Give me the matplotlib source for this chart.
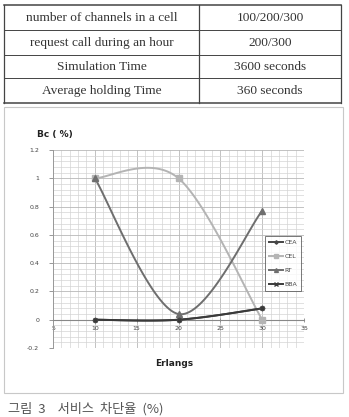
import numpy as np
import matplotlib
matplotlib.use("Agg")
import matplotlib.pyplot as plt
from matplotlib.patches import Rectangle
from matplotlib.lines import Line2D

# ---- data ----
table_params = ["number of channels in a cell", "request call during an hour",
                "Simulation Time", "Average holding Time"]
table_values = ["100/200/300", "200/300", "3600 seconds", "360 seconds"]

erlangs = [10, 20, 30]
series_names = ["CEA", "CEL", "RT", "BBA"]
cea = [0.0, 0.0, 0.08]
cel = [1.0, 1.0, 0.0]
rt = [1.0, 0.04, 0.77]
bba = [0.0, 0.0, 0.08]

x_ticks = [5, 10, 15, 20, 25, 30, 35]
y_ticks = [-0.2, 0, 0.2, 0.4, 0.6, 0.8, 1, 1.2]
y_tick_labels = ["-0.2", "0", "0.2", "0.4", "0.6", "0.8", "1", "1.2"]

W, H = 349, 417
fig = plt.figure(figsize=(W / 100, H / 100), dpi=100)
fig.patch.set_facecolor("white")

def fx(px):
    return px / W

def fy(py):
    return 1 - py / H

# ---- table ----
serif = ["Liberation Serif", "DejaVu Serif"]
row_y = [5, 30, 55, 78, 103]
xl, xm, xr = 4, 199, 341
for i, y in enumerate(row_y):
    lw = 1.1 if i in (0, len(row_y) - 1) else 0.7
    fig.add_artist(Line2D([fx(xl), fx(xr)], [fy(y), fy(y)], color="#444444", lw=lw))
for x in (xl, xm, xr):
    fig.add_artist(Line2D([fx(x), fx(x)], [fy(row_y[0]), fy(row_y[-1])], color="#444444", lw=0.9))
for i in range(4):
    yc = (row_y[i] + row_y[i + 1]) / 2 + 0.5
    fig.text(fx((xl + xm) / 2), fy(yc), table_params[i], ha="center", va="center",
             fontsize=9.6, family=serif, color="#333333")
    fig.text(fx((xm + xr) / 2), fy(yc), table_values[i], ha="center", va="center",
             fontsize=9.6, family=serif, color="#333333")

# ---- chart outer border ----
fig.add_artist(Rectangle((fx(4), fy(393)), fx(343) - fx(4), fy(107) - fy(393),
                         transform=fig.transFigure, fill=False, ec="#c8c8c8", lw=0.8))

# ---- axes ----
left, right, top, bottom = 53, 304, 150, 348
ax = fig.add_axes([fx(left), fy(bottom), fx(right) - fx(left), fy(top) - fy(bottom)])
ax.set_xlim(5, 35)
ax.set_ylim(-0.2, 1.2)
ax.set_xticks(x_ticks)
ax.set_xticks(np.arange(5, 35.01, 1), minor=True)
ax.set_yticks(y_ticks)
ax.set_yticklabels(y_tick_labels)
ax.set_yticks(np.arange(-0.2, 1.2001, 0.04), minor=True)
ax.grid(which="major", color="#b8b8b8", lw=0.6)
ax.grid(which="minor", color="#d4d4d4", lw=0.5)
ax.set_axisbelow(True)
for s in ("top", "right"):
    ax.spines[s].set_visible(False)
ax.spines["left"].set_color("#999999")
ax.spines["left"].set_linewidth(0.7)
ax.spines["bottom"].set_position(("data", 0))
ax.spines["bottom"].set_color("#888888")
ax.spines["bottom"].set_linewidth(0.8)
ax.tick_params(axis="both", which="major", labelsize=4.5, colors="#888888",
               labelcolor="#444444", length=3, width=0.6)
ax.tick_params(axis="y", which="major", pad=7)
ax.tick_params(axis="x", which="major", direction="inout", pad=3)
ax.tick_params(which="minor", length=0)


def excel_smooth(xs, ys, n=40):
    p = np.column_stack([xs, ys]).astype(float)
    out = []
    m = len(p)
    for i in range(m - 1):
        p0 = p[i - 1] if i > 0 else p[i]
        p1, p2 = p[i], p[i + 1]
        p3 = p[i + 2] if i + 2 < m else p[i + 1]
        c1 = p1 + (p2 - p0) / 6
        c2 = p2 - (p3 - p1) / 6
        t = np.linspace(0, 1, n)[:, None]
        seg = ((1 - t) ** 3) * p1 + 3 * ((1 - t) ** 2) * t * c1 + 3 * (1 - t) * t ** 2 * c2 + t ** 3 * p2
        out.append(seg if i == 0 else seg[1:])
    a = np.vstack(out)
    return a[:, 0], a[:, 1]


styles = {
    "CEA": dict(color="#444444", marker="D", ms=2.5),
    "CEL": dict(color="#b4b4b4", marker="s", ms=4.5),
    "RT": dict(color="#6e6e6e", marker="^", ms=4),
    "BBA": dict(color="#3a3a3a", marker="x", ms=3.5),
}
data = {"CEA": cea, "CEL": cel, "RT": rt, "BBA": bba}
handles = []
for name in ["CEL", "RT", "CEA", "BBA"]:
    st = styles[name]
    sx, sy = excel_smooth(erlangs, data[name])
    ax.plot(sx, sy, color=st["color"], lw=1.4, zorder=3, clip_on=False)
    ax.plot(erlangs, data[name], ls="none", marker=st["marker"], ms=st["ms"],
            color=st["color"], mec=st["color"], zorder=4, clip_on=False)
for name in series_names:
    st = styles[name]
    handles.append(Line2D([], [], color=st["color"], lw=1.4, marker=st["marker"],
                          ms=st["ms"] * 0.7, label=name))

leg = ax.legend(handles=handles, loc="upper left", bbox_to_anchor=((265 - left) / (right - left), (bottom - 236) / (bottom - top)),
                fontsize=4.5, frameon=True, fancybox=False, edgecolor="#555555",
                handlelength=2.2, handletextpad=0.3, borderpad=0.6, labelspacing=1.4,
                borderaxespad=0)
leg.get_frame().set_linewidth(0.7)
for t in leg.get_texts():
    t.set_color("#444444")

# ---- labels ----
fig.text(fx(37), fy(135), "Bc ( %)", fontsize=6.5, fontweight="bold", ha="left", va="center",
         color="#222222")
fig.text(fx(174), fy(363), "Erlangs", fontsize=6.5, fontweight="bold", ha="center", va="center",
         color="#222222")

# ---- caption ----
fig.text(fx(8), fy(416), "그림  3    서비스  차단율  (%)", fontsize=9.5, ha="left", va="bottom",
         family=["Noto Sans CJK KR", "DejaVu Sans"], color="#555555", fontweight="light")

fig.savefig("out.png", dpi=100)
